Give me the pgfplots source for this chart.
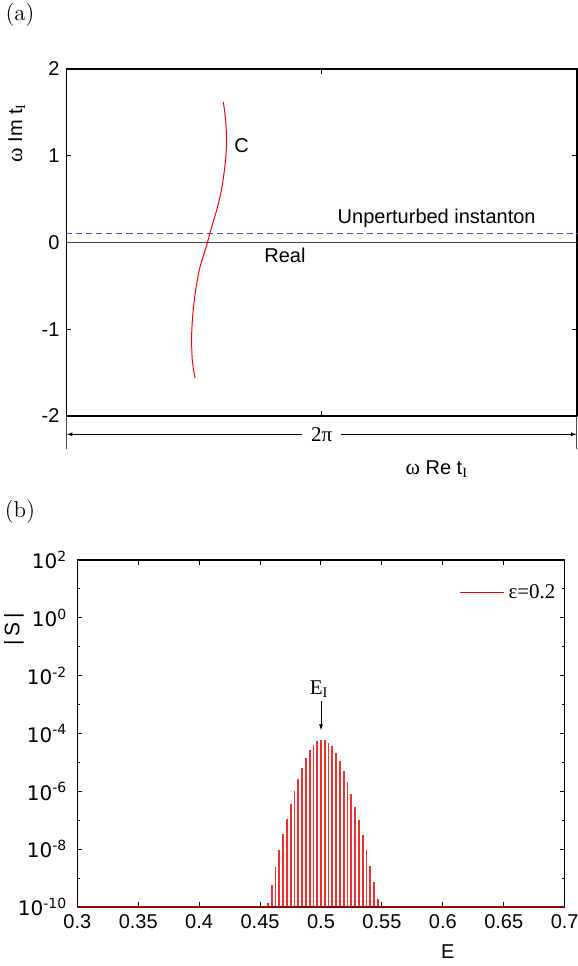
\documentclass[border=0pt]{standalone}
\usepackage{fontspec}
\setsansfont{Liberation Sans}
\newfontfamily\tms{Liberation Serif}
\newfontfamily\dv{DejaVu Sans}
\usepackage{pgfplots}
\pgfplotsset{compat=1.18}
\usetikzlibrary{arrows.meta}
\definecolor{realgray}{RGB}{70,70,70}
\definecolor{instblue}{RGB}{60,85,200}
\definecolor{spikered}{RGB}{240,45,45}
\begin{document}
\begin{tikzpicture}[x=1pt,y=1pt]
\path[use as bounding box] (0,0) rectangle (289,483);
\node[font=\fontsize{11.5}{13}\selectfont] at (10,475.5) {(a)};
\node[font=\fontsize{11.5}{13}\selectfont] at (10,227.2) {(b)};
% ---------------- panel (a)
\begin{axis}[
  at={(33.25pt,275pt)}, anchor=south west, scale only axis,
  width=255.25pt, height=173.5pt,
  xmin=0, xmax=6.28319, ymin=-2, ymax=2,
  xtick={3.14159}, xticklabels={},
  ytick={-2,-1,0,1,2}, yticklabels={-2,-1,0,1,2},
  tick align=inside, major tick length=2.5pt,
  tick style={black, line width=0.5pt},
  axis line style={line width=0.7pt},
  yticklabel style={font=\sffamily\fontsize{10}{12}\selectfont},
  clip=false,
]
\addplot[realgray, line width=0.6pt] coordinates {(0,0) (6.28319,0)};
\addplot[instblue, dash pattern=on 3pt off 2pt, line width=0.6pt] coordinates {(0,0.1) (6.28319,0.1)};
\addplot[red, line width=0.5pt, smooth] coordinates {
(1.930,1.620) (1.948,1.500) (1.963,1.354) (1.969,1.220) (1.969,1.100)
(1.952,0.900) (1.922,0.686) (1.888,0.520) (1.849,0.375) (1.806,0.240)
(1.766,0.110) (1.733,-0.006) (1.690,-0.140) (1.643,-0.282) (1.607,-0.450)
(1.573,-0.663) (1.553,-0.850) (1.541,-1.043) (1.541,-1.200) (1.548,-1.354)
(1.562,-1.460) (1.582,-1.562)};
\node[font=\sffamily\fontsize{10}{12}\selectfont] at (axis cs:2.156,1.112) {C};
\node[font=\sffamily\fontsize{10}{12}\selectfont] at (axis cs:4.556,0.279) {Unperturbed instanton};
\node[font=\sffamily\fontsize{10}{12}\selectfont] at (axis cs:2.689,-0.144) {Real};
\draw[gray!60!black, line width=0.5pt] (axis cs:0,-2) -- (axis cs:0,-2.384);
\draw[gray!60!black, line width=0.5pt] (axis cs:6.28319,-2) -- (axis cs:6.28319,-2.384);
\draw[{Latex[length=3pt,width=2pt]}-{Latex[length=3pt,width=2pt]}, line width=0.4pt] (axis cs:0,-2.211) -- (axis cs:6.28319,-2.211);
\node[fill=white, inner xsep=4.5pt, inner ysep=1pt, font=\tms\fontsize{10.5}{12}\selectfont] at (axis cs:3.14159,-2.211) {2π};
\node[font=\sffamily\fontsize{10}{12}\selectfont] at (axis cs:4.557,-2.614) {{\tms\fontsize{11}{12}\selectfont ω} Re t\textsubscript{\tms I}};
\node[rotate=90, font=\sffamily\fontsize{10}{12}\selectfont] at (axis cs:-0.613,1.262) {{\tms\fontsize{11}{12}\selectfont ω} Im t\textsubscript{\tms I}};
\end{axis}
% ---------------- panel (b)
\begin{axis}[
  at={(38.65pt,29.5pt)}, anchor=south west, scale only axis,
  width=243.7pt, height=173.5pt,
  xmin=0.3, xmax=0.7, ymin=1e-10, ymax=1e2, ymode=log, log origin y=infty,
  xtick={0.3,0.35,0.4,0.45,0.5,0.55,0.6,0.65,0.7},
  xticklabels={0.3,0.35,0.4,0.45,0.5,0.55,0.6,0.65,0.7},
  ytick={1e-10,1e-8,1e-6,1e-4,1e-2,1,1e2},
  yticklabels={10\textsuperscript{-10},10\textsuperscript{-8},10\textsuperscript{-6},10\textsuperscript{-4},10\textsuperscript{-2},10\textsuperscript{0},10\textsuperscript{2}},
  minor ytick={1e-9,1e-7,1e-5,1e-3,1e-1,1e1},
  tick align=inside, major tick length=2.5pt, minor tick length=1.5pt,
  tick style={black, line width=0.5pt},
  axis line style={line width=0.7pt},
  xticklabel style={font=\sffamily\fontsize{10}{12}\selectfont},
  yticklabel style={font=\dv\fontsize{10}{12}\selectfont, xshift=-1.5pt},
  clip=false,
  legend style={at={(0.99,0.905)}, anchor=east, draw=none, fill=none, inner sep=0pt,
    font=\tms\fontsize{10.5}{12}\selectfont},
  legend image code/.code={\draw[red, line width=0.5pt] (0pt,0pt) -- (22pt,0pt);},
]
\addplot[spikered, line width=0.9pt, ycomb] coordinates {
(0.45652,1.38e-10) (0.45962,5.75e-10) (0.46273,2.34e-9) (0.46584,9.12e-9) (0.46894,3.31e-8)
(0.47205,1.07e-7) (0.47516,3.55e-7) (0.47826,1.00e-6) (0.48136,2.75e-6) (0.48447,6.61e-6)
(0.48758,1.41e-5) (0.49068,2.63e-5) (0.49379,4.07e-5) (0.49689,5.62e-5) (0.50000,6.17e-5)
(0.50311,5.75e-5) (0.50621,4.79e-5) (0.50932,3.63e-5) (0.51242,2.04e-5) (0.51553,1.10e-5)
(0.51864,4.90e-6) (0.52174,2.09e-6) (0.52485,8.13e-7) (0.52795,2.95e-7) (0.53106,1.02e-7)
(0.53417,3.02e-8) (0.53727,9.12e-9) (0.54038,2.63e-9) (0.54348,7.08e-10) (0.54659,1.95e-10)};
\addlegendentry{ε=0.2}
\addplot[red!55!black, line width=0.7pt, forget plot] coordinates {(0.3,1e-10) (0.7,1e-10)};
\node[rotate=90, font=\sffamily\fontsize{10.5}{12}\selectfont] at (axis cs:0.248,0.398) {|\,S\,|};
\node[font=\sffamily\fontsize{10}{12}\selectfont] at (axis cs:0.604,2.78e-12) {E};
\node[font=\tms\fontsize{10.5}{12}\selectfont] at (axis cs:0.4985,3.4e-3) {E\textsubscript{I}};
\draw[-{Latex[length=3pt,width=2pt]}, line width=0.4pt] (axis cs:0.5,1.3e-3) -- (axis cs:0.5,1.29e-4);
\end{axis}
\end{tikzpicture}
\end{document}
